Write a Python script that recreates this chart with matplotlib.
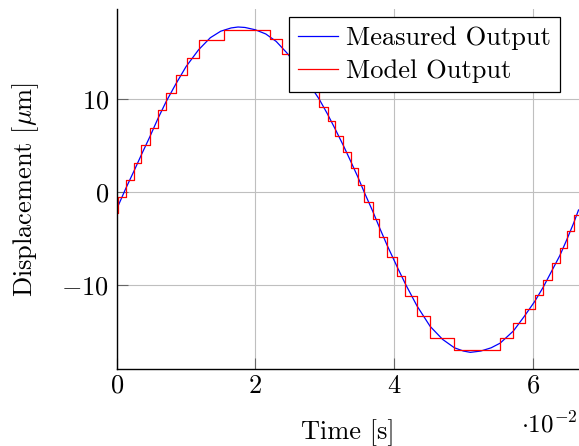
import matplotlib
matplotlib.use('Agg')
import matplotlib.pyplot as plt
from matplotlib.ticker import FuncFormatter

plt.rcParams['font.family'] = 'cmr10'
plt.rcParams['mathtext.fontset'] = 'cm'
plt.rcParams['axes.formatter.use_mathtext'] = True
plt.rcParams['font.size'] = 19

# measured output (time in s, displacement in um)
meas_t = [0, 0.0013, 0.0025, 0.0036, 0.0048, 0.0059, 0.0071, 0.0085, 0.0100, 0.0118,
          0.0135, 0.0150, 0.0165, 0.0175, 0.0185, 0.0200, 0.0215, 0.0230, 0.0245, 0.0260,
          0.0275, 0.0292, 0.0304, 0.0315, 0.0327, 0.0337, 0.0348, 0.0357, 0.0369, 0.0379,
          0.0390, 0.0405, 0.0416, 0.0433, 0.0452, 0.0470, 0.0487, 0.0500, 0.0510, 0.0525,
          0.0540, 0.0553, 0.0572, 0.0588, 0.0603, 0.0615, 0.0627, 0.0639, 0.0649, 0.0659,
          0.0666]
meas_y = [-1.8, 0.4, 2.3, 4.1, 6.0, 7.85, 9.7, 11.6, 13.5, 15.3,
          16.6, 17.3, 17.65, 17.75, 17.7, 17.45, 17.0, 16.2, 15.0, 13.6,
          11.9, 10.0, 8.4, 6.8, 5.0, 3.4, 1.6, 0.0, -2.0, -3.8,
          -5.7, -8.1, -9.8, -12.2, -14.4, -15.8, -16.7, -17.05, -17.19, -17.05,
          -16.7, -16.2, -14.9, -13.3, -11.7, -10.2, -8.5, -6.8, -5.1, -3.3,
          -1.9]

# model output: switch times and the value held from each one on
model_t = [0.00019, 0.0013, 0.00254, 0.00355, 0.00476, 0.00591, 0.00711, 0.00851, 0.01009, 0.01182,
           0.01547, 0.02211, 0.02388, 0.02535, 0.02715, 0.02918, 0.03043, 0.03148, 0.03268, 0.03374,
           0.03475, 0.03566, 0.03691, 0.03787, 0.03902, 0.04046, 0.04162, 0.04326, 0.04522, 0.04868,
           0.05527, 0.05719, 0.05883, 0.06027, 0.06151, 0.06272, 0.06392, 0.06489, 0.06594]
model_y = [-2.2, -0.5, 1.28, 3.18, 5.1, 6.9, 8.8, 10.65, 12.55, 14.47,
           16.4, 17.43, 16.45, 14.83, 12.9, 11.1, 9.2, 7.63, 6.0, 4.28,
           2.6, 0.82, -1.04, -2.9, -4.85, -6.9, -9.0, -11.1, -13.3, -15.6,
           -16.9, -15.65, -14.05, -12.5, -11.0, -9.4, -7.6, -5.95, -4.2, -2.4]

t_end = 0.0666

fig = plt.figure(figsize=(5.79, 4.46), dpi=100)
ax = fig.add_axes([0.2016, 0.1726, 0.7976, 0.8061])

ax.plot(meas_t, meas_y, color='blue', lw=0.9, label='Measured Output')
ax.plot([0] + model_t + [t_end], model_y + [model_y[-1]], drawstyle='steps-post',
        color='red', lw=0.9, label='Model Output')

ax.set_xlim(0, t_end)
ax.set_ylim(-18.98, 19.63)
ax.set_xticks([0, 0.02, 0.04, 0.06])
ax.set_yticks([-10, 0, 10])
ax.xaxis.set_major_formatter(FuncFormatter(lambda v, p: '$%g$' % round(v * 100, 6)))

ax.grid(True, color='#bfbfbf', lw=0.8)
ax.set_axisbelow(True)
for side in ['top', 'right']:
  ax.spines[side].set_visible(False)
for side in ['left', 'bottom']:
  ax.spines[side].set_linewidth(1.0)
ax.tick_params(direction='in', length=8, width=0.8, color='0.4')
ax.tick_params(axis='x', pad=3.5)
ax.tick_params(axis='y', pad=5.5)

ax.set_xlabel('Time [s]', va='center')
ax.xaxis.set_label_coords(0.5, -0.178)
ax.set_ylabel(r'Displacement [$\mu$m]', va='center')
ax.yaxis.set_label_coords(-0.197, 0.5)
fig.text(0.997, 0.047, r'$\cdot 10^{-2}$', ha='right', va='center', fontsize=18)

leg = ax.legend(loc='upper right', bbox_to_anchor=(0.96, 0.979), fancybox=False,
                framealpha=1, edgecolor='black', handlelength=1.5, handletextpad=0.29,
                borderpad=0.36, labelspacing=0.34, borderaxespad=0)
leg.get_frame().set_linewidth(0.9)

fig.savefig('out.png', dpi=100)
